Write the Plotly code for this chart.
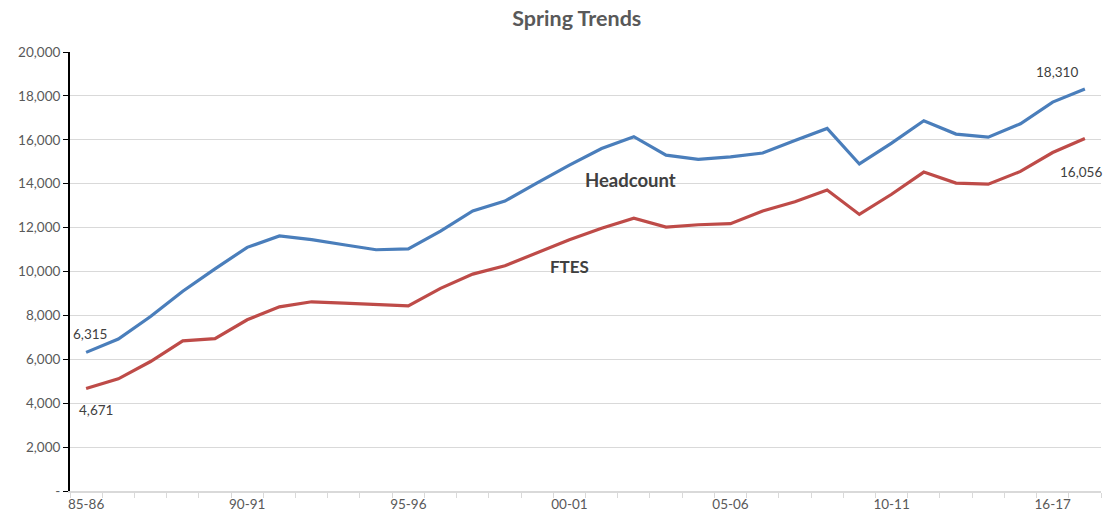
import plotly.graph_objects as go

categories = ["85-86", "86-87", "87-88", "88-89", "89-90", "90-91", "91-92", "92-93",
              "93-94", "94-95", "95-96", "96-97", "97-98", "98-99", "99-00", "00-01",
              "01-02", "02-03", "03-04", "04-05", "05-06", "06-07", "07-08", "08-09",
              "09-10", "10-11", "11-12", "12-13", "13-14", "14-15", "16-17", "17-18"]

headcount = [6315, 6925, 7950, 9100, 10120, 11100, 11620, 11450, 11220, 10990, 11030,
             11840, 12760, 13210, 14040, 14850, 15600, 16140, 15300, 15110, 15220, 15400,
             15970, 16520, 14900, 15850, 16870, 16260, 16120, 16730, 17720, 18310]

ftes = [4671, 5110, 5900, 6840, 6940, 7800, 8390, 8620, 8560, 8490, 8430, 9230, 9880,
        10260, 10840, 11450, 11970, 12430, 12020, 12130, 12180, 12760, 13180, 13710,
        12600, 13520, 14530, 14030, 13980, 14560, 15420, 16056]

y_ticks = [0, 2000, 4000, 6000, 8000, 10000, 12000, 14000, 16000, 18000, 20000]
y_labels = ["-", "2,000", "4,000", "6,000", "8,000", "10,000", "12,000", "14,000",
            "16,000", "18,000", "20,000"]

FONT = "Lato, 'Open Sans', sans-serif"
GREY = "#595959"
DARK = "#404040"

x = list(range(len(categories)))
fig = go.Figure()
fig.add_trace(go.Scatter(x=x, y=headcount, mode="lines", name="Headcount",
                         line=dict(color="#4A7EBB", width=3.2)))
fig.add_trace(go.Scatter(x=x, y=ftes, mode="lines", name="FTES",
                         line=dict(color="#BE4B48", width=3.2)))

# series name labels
fig.add_annotation(x=x[17], y=headcount[17], xshift=-3, yshift=-43, text="<b>Headcount</b>",
                   showarrow=False, font=dict(size=18.5, color=DARK, family=FONT))
fig.add_annotation(x=x[15], y=ftes[15], xshift=0, yshift=-27, text="<b>FTES</b>",
                   showarrow=False, font=dict(size=17, color=DARK, family=FONT))
# endpoint value labels
fig.add_annotation(x=x[0], y=headcount[0], text=f"{headcount[0]:,}", showarrow=False,
                   yshift=18, xshift=4, font=dict(size=13.5, color=DARK, family=FONT))
fig.add_annotation(x=x[0], y=ftes[0], text=f"{ftes[0]:,}", showarrow=False,
                   yshift=-22, xshift=10, font=dict(size=13.5, color=DARK, family=FONT))
fig.add_annotation(x=x[-1], y=headcount[-1], text=f"{headcount[-1]:,}", showarrow=False,
                   yshift=17, xshift=-28, font=dict(size=13.5, color=DARK, family=FONT))
fig.add_annotation(x=x[-1], y=ftes[-1], text=f"{ftes[-1]:,}", showarrow=False,
                   yshift=-33, xshift=-4, font=dict(size=13.5, color=DARK, family=FONT))

fig.update_layout(
    width=1105, height=523,
    margin=dict(l=70, r=4, t=52, b=32),
    paper_bgcolor="white", plot_bgcolor="white",
    showlegend=False,
    font=dict(family=FONT, color=GREY, size=13),
    title=dict(text="<b>Spring Trends</b>", x=0.522, xanchor="center", y=0.965, yanchor="middle",
               font=dict(size=21.5, color=GREY, family=FONT)),
)
fig.update_xaxes(
    range=[-0.5, len(categories) - 0.5],
    tickvals=x[::5], ticktext=categories[::5], ticks="",
    showgrid=False, zeroline=False,
    showline=True, linecolor="#d9d9d9", linewidth=1.5,
    tickfont=dict(size=13.5, color=GREY),
    minor=dict(ticks="outside", tick0=-0.5, dtick=1, ticklen=5, tickcolor="#d9d9d9",
               tickwidth=1.2, showgrid=False),
)
fig.update_yaxes(
    range=[0, 20000], tickvals=y_ticks, ticktext=y_labels,
    showgrid=True, gridcolor="#d9d9d9", gridwidth=1,
    zeroline=False, showline=True, linecolor="black", linewidth=2,
    ticks="outside", ticklen=5, tickcolor="black", tickwidth=1.2,
    tickfont=dict(size=13.5, color=GREY),
)

fig.write_html("out.html", config={"displayModeBar": False},
               post_script="document.body.style.margin='0';document.body.style.overflow='hidden';")
